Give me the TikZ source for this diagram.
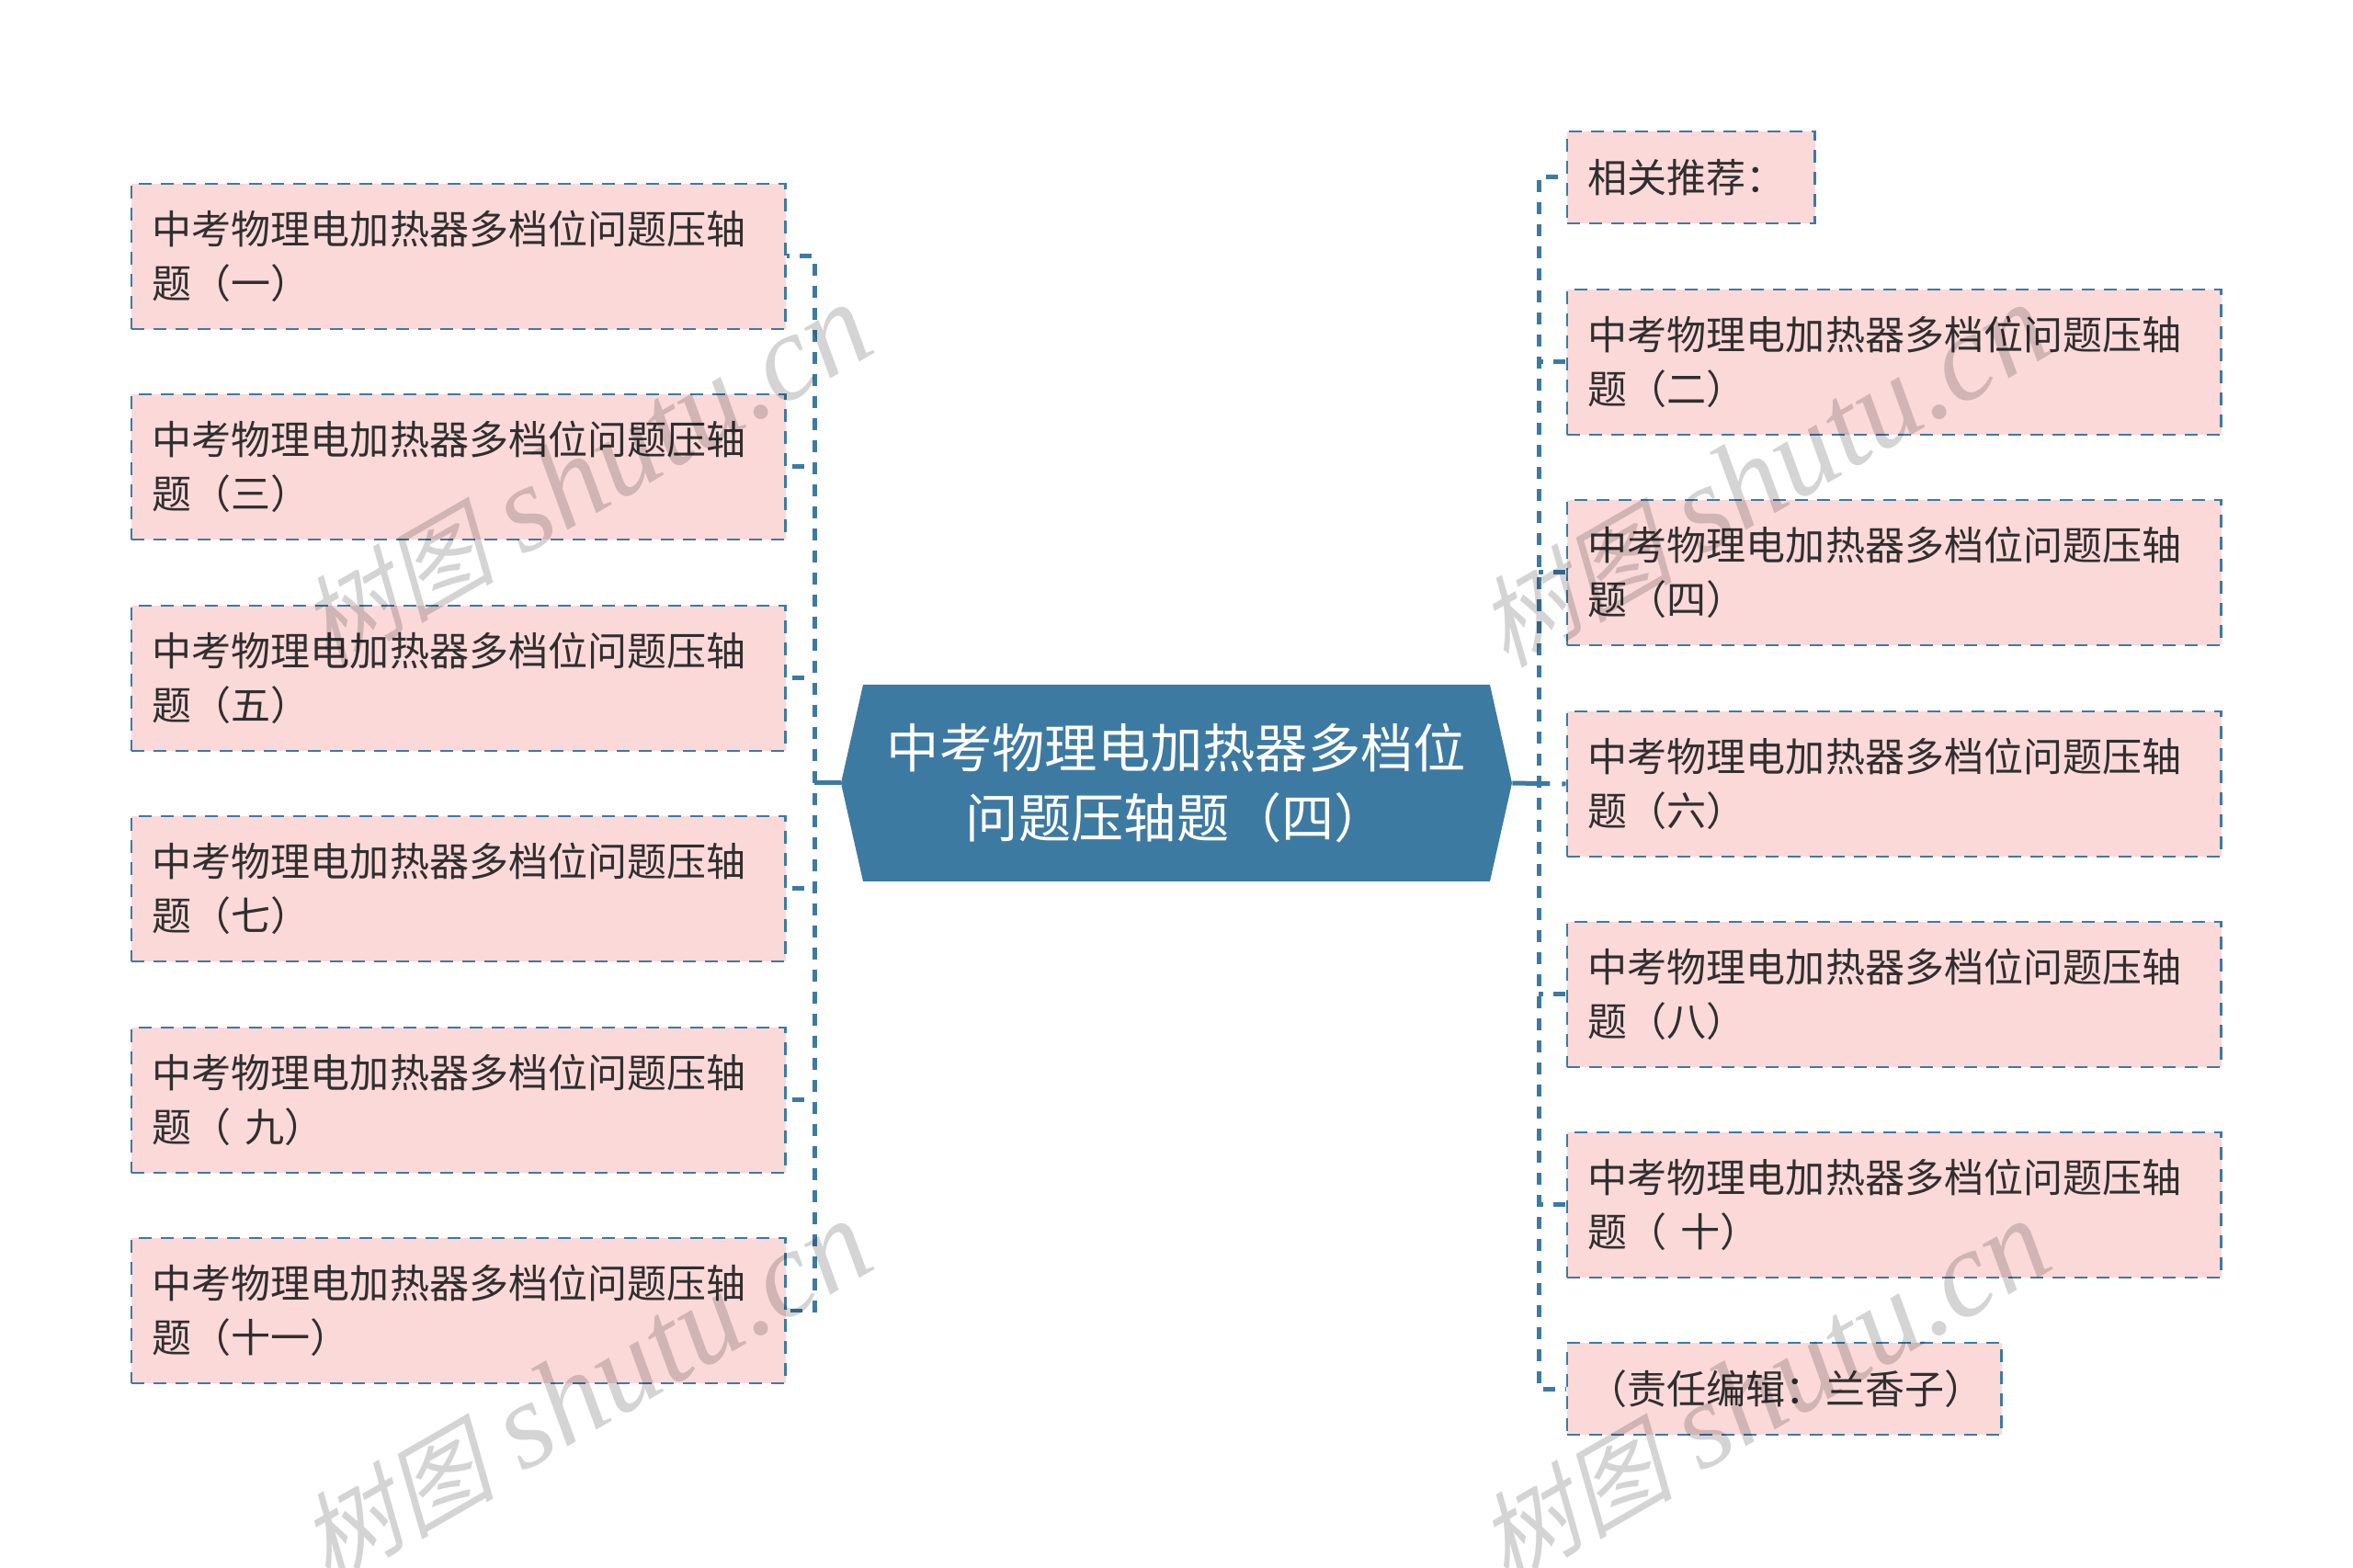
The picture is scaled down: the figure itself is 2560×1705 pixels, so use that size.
\documentclass[tikz,border=0pt]{standalone}
\usepackage{fontspec}
\setmainfont{Noto Sans CJK SC}
\newfontfamily\markcjk[FakeSlant=0.25]{Noto Sans CJK SC}
\newfontfamily\marklatin{Liberation Serif}
\usetikzlibrary{positioning}
\definecolor{linkblue}{HTML}{3D7AA2}
\definecolor{boxpink}{HTML}{FCD9D9}
\definecolor{inktext}{HTML}{2F2F2F}
\newcommand{\itemhead}{中考物理电加热器多档位问题压轴}
\tikzset{
  itembox/.style={draw=linkblue,fill=boxpink,line width=0.5mm,dash pattern=on 2.8mm off 2mm,anchor=west,
    inner xsep=4.6mm,inner ysep=0pt,text=inktext,align=left,
    font=\fontsize{24.5pt}{33.4pt}\selectfont},
  twoline/.style={text width=133.2mm,minimum height=31.6mm},
  linkline/.style={draw=linkblue,line width=1mm,dash pattern=on 2.6mm off 2.2mm},
  stemline/.style={draw=linkblue,line width=1mm},
  markbg/.style={rotate=30,text=black,opacity=0.17,font=\fontsize{76pt}{76pt}\selectfont},
}
\begin{document}
\begin{tikzpicture}[line cap=butt,line join=miter,x=0.02cm,y=0.02cm]
\useasboundingbox (0,0) rectangle (2560,1705);
\clip (0,0) rectangle (2560,1705);
\fill [linkblue] (915,853) -- (939,960) -- (1621,960) -- (1645,853) -- (1621,746) -- (939,746) -- cycle;
\node [minimum width=146mm,minimum height=42.8mm,inner sep=0pt,text=white,align=center,
  font=\fontsize{32.6pt}{43.7pt}\selectfont] (root) at (1280,853) {中考物理电加热器多档位\\问题压轴题（四）};
\coordinate (busl) at (886,853);
\coordinate (busr) at (1674,853);
% left side
\foreach \n/\y/\t in {l1/1426/（一）,l2/1197/（三）,l3/967/（五）,l4/738/（七）,l5/508/（ 九）,l6/279/（十一）}
  \node [itembox,twoline] (\n) at (141.5,\y) {\itemhead\\题\t};
% right side
\node [itembox,text width=44.8mm,minimum height=20mm] (r1) at (1703.5,1512) {相关推荐：};
\foreach \n/\y/\t in {r2/1311/（二）,r3/1082/（四）,r4/852/（六）,r5/623/（八）,r6/394/（ 十）}
  \node [itembox,twoline] (\n) at (1703.5,\y) {\itemhead\\题\t};
\node [itembox,text width=85.4mm,minimum height=20mm] (r7) at (1703.5,194) {（责任编辑：兰香子）};
% connectors
\draw [stemline] (root.west) -- (busl);
\draw [linkline,dash pattern=on 8.2mm off 2.6mm on 4mm] (root.east) -- (r4.west);
\draw [linkline,dash phase=2mm] (l1.east) -- (busl |- l1.east) -- (busl |- l6.east) -- (l6.east);
\foreach \n in {l2,l3,l4,l5}
  \draw [linkline,dash phase=2.6mm] (busl |- \n.east) -- (\n.east);
\draw [linkline,dash phase=3mm] (r1.west) -- (busr |- r1.west) -- (busr |- r7.west) -- (r7.west);
\foreach \n in {r2,r3,r5,r6}
  \draw [linkline,dash phase=1.6mm] (busr |- \n.west) -- (\n.west);
% watermark
\foreach \n/\x/\y in {w1/636/1187,w2/1918/1187,w3/636/190,w4/1918/190}
  \node [markbg] (\n) at (\x,\y) {{\markcjk\fontsize{61pt}{61pt}\selectfont 树图} {\marklatin\itshape shutu.cn}};
\end{tikzpicture}
\end{document}
